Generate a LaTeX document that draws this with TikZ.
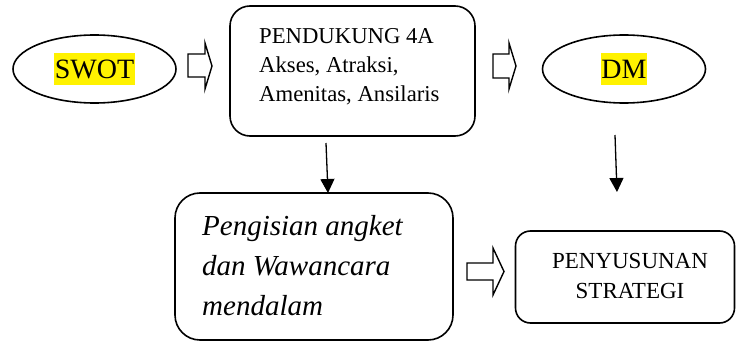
\documentclass[tikz,border=0pt]{standalone}
\usepackage{fontspec}
\setmainfont{Liberation Serif}
\usetikzlibrary{arrows.meta,shapes.geometric}
\begin{document}
\begin{tikzpicture}[x=1pt,y=-1pt,
  oval/.style={draw,ellipse,line width=1.6pt,minimum width=163pt,minimum height=68pt,inner sep=0pt},
  rbox/.style={draw,rounded corners=#1,line width=1.6pt,inner sep=0pt},
  hl/.style={fill=yellow,inner xsep=0.5pt,inner ysep=0pt,font=\fontsize{28}{31}\selectfont,text height=25pt,text depth=6.5pt},
  lbl/.style={inner sep=0pt,anchor=base west,font=\fontsize{#1}{#1}\selectfont},
  ilbl/.style={inner sep=0pt,anchor=base west,font=\fontsize{29}{29}\selectfont\itshape},
  clbl/.style={inner sep=0pt,anchor=base,font=\fontsize{23}{23}\selectfont},
  blockarrow/.style={draw,line width=1.4pt,fill=white,line join=miter},
  downarrow/.style={line width=1.3pt,-{Triangle[width=14pt,length=14pt]}}]
\useasboundingbox (0,0) rectangle (736,342);
% top row
\node[oval] (swot) at (94.5,69) {};
\node[hl] (swotlab) at (swot.center) {SWOT};
\node[rbox=20pt,minimum width=245pt,minimum height=130pt] (pend) at (352.5,71) {};
\node[lbl=22.7] (p1) at (259,44) {PENDUKUNG 4A};
\node[lbl=22.7] (p2) at (259,73) {Akses, Atraksi,};
\node[lbl=22.7] (p3) at (259,102) {Amenitas, Ansilaris};
\node[oval] (dm) at (624,69) {};
\node[hl] (dmlab) at (dm.center) {DM};
% bottom row
\node[rbox=25pt,minimum width=278pt,minimum height=147pt] (peng) at (314,266.5) {};
\node[ilbl] (q1) at (202,235) {Pengisian angket};
\node[ilbl] (q2) at (202,275) {dan Wawancara};
\node[ilbl] (q3) at (202,315) {mendalam};
\node[rbox=15pt,minimum width=219pt,minimum height=92pt] (strat) at (625,277) {};
\node[clbl] (s1) at (630,268) {PENYUSUNAN};
\node[clbl] (s2) at (630,298) {STRATEGI};
% hollow block arrows
\draw[blockarrow] (188,54) -- (205,54) -- (205,43) -- (212,66) -- (205,89) -- (205,77) -- (188,77) -- cycle;
\draw[blockarrow] (493,54) -- (509,54) -- (509,43) -- (516,66) -- (509,89) -- (509,78) -- (493,78) -- cycle;
\draw[blockarrow] (467,263) -- (493,263) -- (493,248) -- (504,271.5) -- (493,295) -- (493,280) -- (467,280) -- cycle;
% down arrows
\coordinate (d1s) at (326,143);
\coordinate (d1e) at (328,193);
\draw[downarrow] (d1s) -- (d1e);
\coordinate (d2s) at (615,135);
\coordinate (d2e) at (617,192);
\draw[downarrow] (d2s) -- (d2e);
\end{tikzpicture}
\end{document}
